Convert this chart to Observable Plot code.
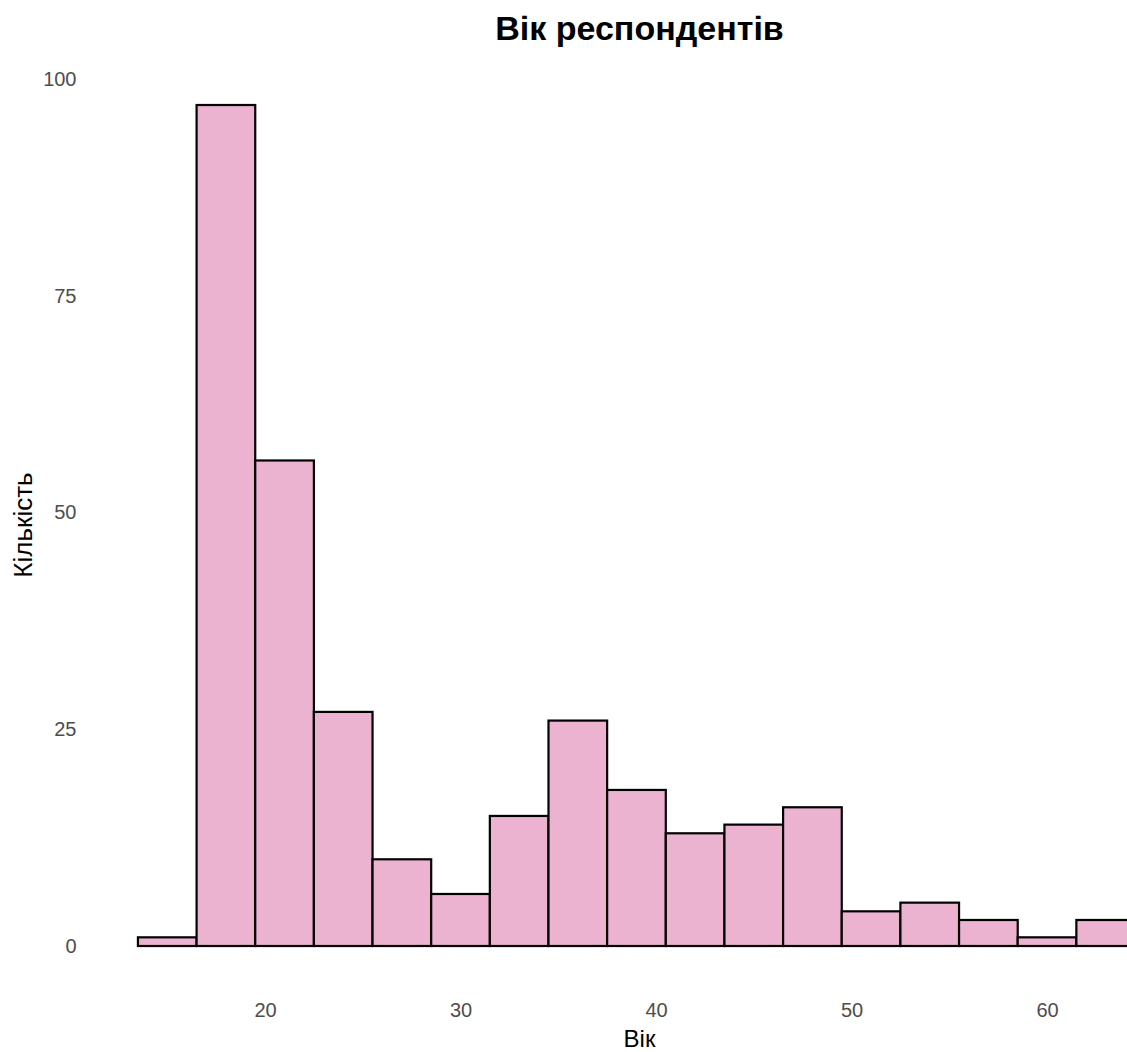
<!DOCTYPE html>
<html>
<head>
<meta charset="utf-8">
<script src="https://cdn.jsdelivr.net/npm/d3@7"></script>
<script src="https://cdn.jsdelivr.net/npm/@observablehq/plot@0.6"></script>
<style>
  body { margin: 0; background: #fff; }
  #wrap { position: relative; width: 1127px; height: 1052px; overflow: hidden; font-family: "Liberation Sans", Arial, sans-serif; }
  .lbl { position: absolute; white-space: nowrap; line-height: 1; color: #000; }
</style>
</head>
<body>
<div id="wrap">
  <div class="lbl" id="title" style="left:639.5px; top:11.2px; transform:translateX(-50%); font-size:34px; font-weight:bold;">Вік респондентів</div>
  <div class="lbl" id="xlab" style="left:639.5px; top:1026.7px; transform:translateX(-50%); font-size:24px;">Вік</div>
  <div class="lbl" id="ylab" style="left:23px; top:525px; transform:translate(-50%,-50%) rotate(-90deg); font-size:26px;">Кількість</div>
</div>
<script>
// Histogram bins (age, 3-year bins)
const binStarts = [13.5, 16.5, 19.5, 22.5, 25.5, 28.5, 31.5, 34.5, 37.5, 40.5, 43.5, 46.5, 49.5, 52.5, 55.5, 58.5, 61.5];
const binWidth = 3;
const counts = [1, 97, 56, 27, 10, 6, 15, 26, 18, 13, 14, 16, 4, 5, 3, 1, 3];
const xTicks = [20, 30, 40, 50, 60];
const yTicks = [0, 25, 50, 75, 100];

const data = binStarts.map((s, i) => ({x1: s, x2: s + binWidth, count: counts[i]}));

const chart = Plot.plot({
  width: 1127,
  height: 1052,
  marginLeft: 100,
  marginRight: 0,
  marginTop: 79,
  marginBottom: 106,
  style: {fontSize: "20px", fontFamily: "'Liberation Sans', Arial, sans-serif", color: "#4d4d4d", background: "transparent"},
  x: {domain: [11.56, 64.09]},
  y: {domain: [0, 100]},
  marks: [
    Plot.rectY(data, {x1: "x1", x2: "x2", y: "count", fill: "#EBB3D0", stroke: "#000", strokeWidth: 2.2}),
    Plot.axisX({ticks: xTicks, tickSize: 0, tickPadding: 56, label: null}),
    Plot.axisY({ticks: yTicks, tickSize: 0, tickPadding: 24, label: null})
  ]
});
chart.style.position = "absolute";
chart.style.left = "0";
chart.style.top = "0";
document.getElementById("wrap").prepend(chart);
</script>
</body>
</html>
